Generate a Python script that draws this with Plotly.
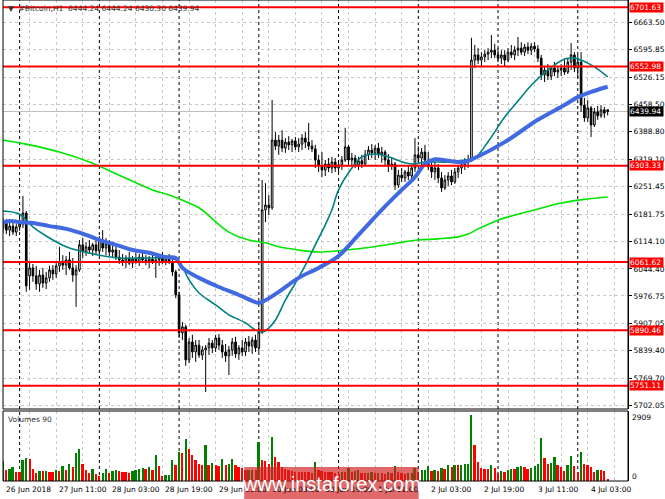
import plotly.graph_objects as go

# ---------------- data ----------------
x_labels = ["26 Jun 2018", "27 Jun 11:00", "28 Jun 03:00", "28 Jun 19:00", "29 Jun 11:00",
            "30 Jun 03:00", "30 Jun 19:00", "1 Jul 11:00", "2 Jul 03:00", "2 Jul 19:00",
            "3 Jul 11:00", "4 Jul 03:00"]
x_label_bars = [0, 16, 32, 48, 64, 80, 96, 112, 128, 144, 160, 176]
day_start_bars = [5, 29, 53, 77, 101, 125, 149, 173]

open_ = [6147, 6162, 6142, 6152, 6137, 6150, 6157, 6185, 6027, 6047,
         6027, 6007, 6029, 6009, 6022, 6042, 6032, 6052, 6062, 6054,
         6067, 6047, 6029, 6042, 6105, 6087, 6100, 6092, 6105, 6090,
         6117, 6097, 6107, 6087, 6092, 6074, 6067, 6062, 6072, 6059,
         6069, 6064, 6074, 6067, 6062, 6069, 6062, 6067, 6072, 6064,
         6069, 6062, 6037, 5979, 5884, 5899, 5816, 5861, 5836, 5853,
         5828, 5841, 5846, 5858, 5846, 5871, 5853, 5836, 5826, 5841,
         5861, 5831, 5846, 5836, 5861, 5851, 5866, 5846, 5886, 6193,
         6205, 6198, 6368, 6353, 6368, 6348, 6363, 6356, 6366, 6351,
         6358, 6373, 6363, 6353, 6346, 6318, 6303, 6293, 6308, 6298,
         6313, 6298, 6306, 6318, 6351, 6318, 6323, 6306, 6316, 6308,
         6331, 6343, 6336, 6348, 6331, 6338, 6318, 6303, 6308, 6255,
         6280, 6273, 6288, 6278, 6298, 6331, 6323, 6338, 6318, 6301,
         6288, 6298, 6273, 6248, 6268, 6278, 6263, 6288, 6298, 6306,
         6313, 6318, 6569, 6582, 6569, 6577, 6584, 6589, 6594, 6582,
         6574, 6582, 6569, 6589, 6582, 6594, 6599, 6589, 6602, 6594,
         6604, 6597, 6574, 6532, 6544, 6529, 6549, 6539, 6544, 6549,
         6539, 6564, 6582, 6549, 6564, 6456, 6424, 6449, 6406, 6439,
         6429, 6444, 6444.24]
high = [6172, 6170, 6162, 6160, 6157, 6180, 6228, 6190, 6062, 6057,
        6052, 6042, 6047, 6037, 6052, 6054, 6062, 6100, 6079, 6077,
        6087, 6072, 6054, 6117, 6122, 6112, 6117, 6110, 6122, 6127,
        6142, 6122, 6117, 6107, 6102, 6092, 6082, 6079, 6087, 6077,
        6085, 6082, 6087, 6079, 6077, 6082, 6079, 6082, 6087, 6079,
        6082, 6072, 6042, 5987, 5911, 5904, 5871, 5879, 5866, 5866,
        5851, 5853, 5871, 5866, 5879, 5881, 5866, 5856, 5851, 5871,
        5874, 5853, 5866, 5871, 5876, 5874, 5879, 5911, 6268, 6260,
        6230, 6469, 6388, 6381, 6393, 6373, 6378, 6371, 6376, 6373,
        6383, 6388, 6411, 6368, 6356, 6331, 6338, 6318, 6323, 6326,
        6323, 6318, 6328, 6399, 6356, 6336, 6331, 6326, 6331, 6343,
        6353, 6358, 6356, 6361, 6351, 6343, 6333, 6323, 6313, 6293,
        6298, 6293, 6303, 6306, 6373, 6353, 6348, 6356, 6338, 6318,
        6313, 6308, 6288, 6280, 6288, 6293, 6298, 6306, 6318, 6323,
        6331, 6625, 6607, 6599, 6589, 6594, 6599, 6632, 6610, 6599,
        6594, 6594, 6599, 6607, 6604, 6627, 6614, 6610, 6614, 6612,
        6614, 6607, 6582, 6554, 6559, 6554, 6564, 6554, 6559, 6569,
        6574, 6612, 6589, 6582, 6589, 6474, 6469, 6454, 6449, 6454,
        6456, 6451, 6444.24]
low = [6135, 6132, 6127, 6130, 6127, 6140, 6147, 5987, 5992, 6012,
       5992, 5987, 5997, 5994, 6012, 6017, 6022, 6037, 6042, 6029,
       6042, 6012, 5949, 6037, 6072, 6077, 6082, 6077, 6082, 6079,
       6087, 6079, 6077, 6072, 6067, 6057, 6052, 6047, 6054, 6047,
       6057, 6052, 6059, 6054, 6047, 6057, 6022, 6052, 6057, 6054,
       6057, 6027, 5971, 5871, 5866, 5801, 5808, 5821, 5811, 5821,
       5816, 5735, 5828, 5833, 5836, 5841, 5821, 5811, 5778, 5826,
       5821, 5816, 5826, 5826, 5836, 5831, 5836, 5836, 5881, 6162,
       6180, 6193, 6343, 6331, 6338, 6336, 6343, 6338, 6343, 6338,
       6343, 6348, 6343, 6338, 6298, 6288, 6275, 6278, 6288, 6285,
       6288, 6283, 6293, 6313, 6306, 6303, 6298, 6293, 6298, 6303,
       6318, 6323, 6318, 6323, 6311, 6303, 6288, 6293, 6243, 6248,
       6263, 6263, 6268, 6268, 6288, 6313, 6303, 6306, 6293, 6273,
       6268, 6260, 6238, 6243, 6253, 6255, 6258, 6273, 6283, 6293,
       6298, 6313, 6549, 6559, 6554, 6564, 6569, 6574, 6574, 6564,
       6559, 6554, 6564, 6574, 6569, 6579, 6582, 6579, 6584, 6582,
       6589, 6564, 6519, 6514, 6519, 6519, 6529, 6524, 6529, 6532,
       6534, 6544, 6539, 6524, 6439, 6414, 6414, 6376, 6401, 6419,
       6424, 6424, 6430.30]
close = [6162, 6142, 6152, 6137, 6150, 6157, 6185, 6002, 6047, 6027,
         6007, 6029, 6009, 6022, 6042, 6032, 6052, 6062, 6054, 6067,
         6047, 6029, 6042, 6105, 6087, 6100, 6092, 6105, 6090, 6117,
         6097, 6107, 6087, 6092, 6074, 6067, 6062, 6072, 6059, 6069,
         6064, 6074, 6067, 6062, 6069, 6062, 6067, 6072, 6064, 6069,
         6062, 6037, 5979, 5884, 5899, 5816, 5861, 5836, 5853, 5828,
         5841, 5846, 5858, 5846, 5871, 5853, 5836, 5826, 5841, 5861,
         5831, 5846, 5836, 5861, 5851, 5866, 5846, 5886, 6193, 6205,
         6198, 6368, 6353, 6368, 6348, 6363, 6356, 6366, 6351, 6358,
         6373, 6363, 6353, 6346, 6318, 6303, 6293, 6308, 6298, 6313,
         6298, 6306, 6318, 6351, 6318, 6323, 6306, 6316, 6308, 6331,
         6343, 6336, 6348, 6331, 6338, 6318, 6303, 6308, 6255, 6280,
         6273, 6288, 6278, 6298, 6331, 6323, 6338, 6318, 6301, 6288,
         6298, 6273, 6248, 6268, 6278, 6263, 6288, 6298, 6306, 6313,
         6318, 6569, 6582, 6569, 6577, 6584, 6589, 6594, 6582, 6574,
         6582, 6569, 6589, 6582, 6594, 6599, 6589, 6602, 6594, 6604,
         6597, 6574, 6532, 6544, 6529, 6549, 6539, 6544, 6549, 6539,
         6564, 6582, 6549, 6564, 6456, 6424, 6449, 6406, 6439, 6429,
         6444, 6436, 6439.94]
volume = [886, 473, 546, 620, 399, 399, 916, 1034, 960, 546,
          369, 443, 428, 443, 399, 399, 502, 428, 665, 473,
          738, 620, 1255, 1432, 738, 502, 369, 517, 295, 207,
          354, 517, 369, 443, 502, 428, 399, 384, 369, 443,
          473, 546, 576, 546, 620, 473, 1137, 665, 222, 251,
          266, 916, 694, 1285, 1240, 1831, 1403, 1137, 916, 738,
          724, 1580, 694, 797, 724, 650, 989, 694, 738, 989,
          694, 620, 591, 473, 487, 502, 487, 1728, 916, 886,
          768, 1949, 1063, 842, 620, 546, 473, 428, 399, 399,
          399, 384, 384, 369, 842, 473, 443, 399, 399, 399,
          369, 325, 399, 384, 591, 399, 428, 473, 369, 354,
          369, 399, 354, 369, 354, 325, 399, 369, 650, 399,
          369, 325, 354, 369, 591, 399, 473, 502, 650, 443,
          473, 443, 591, 517, 694, 620, 724, 694, 724, 738,
          768, 2909, 1580, 842, 591, 546, 546, 724, 576, 369,
          443, 399, 473, 546, 546, 620, 650, 620, 546, 591,
          650, 738, 1890, 1034, 768, 797, 1063, 694, 620, 443,
          694, 1107, 650, 399, 1285, 738, 694, 620, 399, 502,
          473, 428, 90]

ma_fast_bars = [0, 5, 9, 14, 19, 23, 29, 35, 44, 50, 53, 56, 59, 64, 68, 73, 76, 78, 80, 82,
                85, 88, 91, 94, 97, 99, 101, 105, 108, 112, 116, 121, 124, 127, 134, 139, 142,
                146, 151, 155, 159, 164, 169, 172, 174, 178, 182]
ma_fast = [6190, 6182, 6150, 6122, 6100, 6090, 6079, 6072, 6072, 6072, 6062, 6017, 5984, 5954,
           5929, 5909, 5891, 5886, 5896, 5916, 5966, 6009, 6054, 6105, 6155, 6193, 6243, 6298,
           6326, 6333, 6326, 6311, 6308, 6313, 6313, 6318, 6323, 6364, 6426, 6466, 6506, 6544,
           6572, 6574, 6569, 6552, 6527]
ma_mid_bars = [0, 2, 5, 9, 14, 19, 25, 29, 34, 39, 44, 49, 52, 54, 59, 65, 71, 76, 77, 79,
               83, 89, 95, 101, 107, 114, 119, 124, 127, 130, 134, 139, 142, 151, 161, 169,
               173, 177, 182]
ma_mid = [6160, 6165, 6162, 6160, 6152, 6145, 6130, 6117, 6105, 6092, 6085, 6074, 6072, 6047,
          6022, 5999, 5979, 5961, 5959, 5966, 5987, 6022, 6047, 6077, 6130, 6193, 6235, 6275,
          6308, 6320, 6316, 6313, 6323, 6363, 6419, 6456, 6476, 6489, 6502]
ma_slow_bars = [0, 8, 17, 26, 35, 45, 50, 56, 59, 68, 74, 79, 83, 89, 95, 101, 107, 113, 119,
                125, 131, 137, 140, 143, 149, 155, 161, 167, 172, 176, 182]
ma_slow = [6368, 6356, 6338, 6313, 6280, 6243, 6230, 6210, 6198, 6137, 6117, 6110, 6100, 6092,
           6087, 6090, 6095, 6102, 6110, 6117, 6120, 6125, 6132, 6145, 6167, 6182, 6195, 6208,
           6216, 6220, 6225]

levels = [6701.63, 6552.98, 6303.33, 6061.62, 5890.46, 5751.11]
last_price = 6439.94
price_ticks = [6663.50, 6595.85, 6526.15, 6458.50, 6388.80, 6319.10, 6251.45, 6181.75,
               6114.10, 6044.40, 5976.75, 5907.05, 5839.40, 5769.70, 5702.05]
vol_max_label = 2909
header = "▼  #Bitcoin,H1  6444.24 6444.24 6430.30 6439.94"
vol_title = "Volumes 90"
watermark = "www.instaforex.com"

# ---------------- layout geometry ----------------
W, H = 665, 499
ML, MR, MT, MB = 3, 35, 0, 18
PW = W - ML - MR
PH = H - MT - MB


def px_x(px):
    return (px - ML) / PW


def px_y(py):
    return (H - MB - py) / PH


bars = list(range(len(close)))
vol_colors = ["#008000" if i == 0 or volume[i] > volume[i - 1] else "#ff0000" for i in bars]

FONT = "DejaVu Sans"
FS = 7.5

fig = go.Figure()
fig.add_trace(go.Candlestick(
    x=bars, open=open_, high=high, low=low, close=close,
    increasing=dict(line=dict(color="black", width=1), fillcolor="white"),
    decreasing=dict(line=dict(color="black", width=1), fillcolor="black"),
    whiskerwidth=0, xaxis="x", yaxis="y", hoverinfo="skip", showlegend=False))
fig.add_trace(go.Scatter(x=ma_slow_bars, y=ma_slow, mode="lines",
                         line=dict(color="#00e600", width=1.6, shape="spline"),
                         xaxis="x", yaxis="y", showlegend=False, hoverinfo="skip"))
fig.add_trace(go.Scatter(x=ma_fast_bars, y=ma_fast, mode="lines",
                         line=dict(color="#008080", width=1.6, shape="spline"),
                         xaxis="x", yaxis="y", showlegend=False, hoverinfo="skip"))
fig.add_trace(go.Scatter(x=ma_mid_bars, y=ma_mid, mode="lines",
                         line=dict(color="#4169e1", width=4, shape="spline"),
                         xaxis="x", yaxis="y", showlegend=False, hoverinfo="skip"))
fig.add_trace(go.Bar(x=bars, y=volume, marker=dict(color=vol_colors, line=dict(width=0)),
                     width=0.6, xaxis="x2", yaxis="y2", showlegend=False, hoverinfo="skip"))

x_range = [0, PW / 3.333]
main_dom = [px_y(409), 1]
vol_dom = [0, px_y(411)]
y_top = 6720.0
y_bot = 6720.0 - 2.512 * 409
grid_bars = list(range(0, 189, 8))

shapes = []
for b in day_start_bars:
    shapes.append(dict(type="line", xref="x", yref="paper", x0=b, x1=b, y0=0, y1=1,
                       line=dict(color="#000000", width=1, dash="dot"), layer="below"))
for lv in levels:
    shapes.append(dict(type="line", xref="paper", yref="y", x0=0, x1=1, y0=lv, y1=lv,
                       line=dict(color="#ff0000", width=2)))
shapes.append(dict(type="line", xref="paper", yref="y", x0=0, x1=1, y0=last_price, y1=last_price,
                   line=dict(color="#c0c0c0", width=1), layer="below"))
shapes.append(dict(type="rect", xref="paper", yref="paper", x0=0, x1=1, y0=main_dom[0], y1=1,
                   line=dict(color="#000000", width=1)))
shapes.append(dict(type="rect", xref="paper", yref="paper", x0=0, x1=1, y0=0, y1=vol_dom[1],
                   line=dict(color="#000000", width=1)))
shapes.append(dict(type="rect", xref="paper", yref="paper", x0=px_x(245), x1=px_x(420),
                   y0=px_y(499), y1=px_y(467), fillcolor="rgba(210,35,35,0.68)",
                   line=dict(width=0), layer="above"))

annotations = []
for lv in levels:
    annotations.append(dict(xref="paper", yref="y", x=1, y=lv, xanchor="left", yanchor="middle",
                            text=f"{lv:.2f}", showarrow=False, bgcolor="#ff0000",
                            font=dict(family=FONT, size=FS, color="white"),
                            width=33, height=9, borderpad=0, align="left", xshift=1))
annotations.append(dict(xref="paper", yref="y", x=1, y=last_price, xanchor="left", yanchor="middle",
                        text=f"{last_price:.2f}", showarrow=False, bgcolor="#000000",
                        font=dict(family=FONT, size=FS, color="white"),
                        width=33, height=9, borderpad=0, align="left", xshift=1))
for b, t in zip(x_label_bars, x_labels):
    annotations.append(dict(xref="x", yref="paper", x=b, y=px_y(489), xanchor="left",
                            yanchor="middle", text=t, showarrow=False, xshift=1,
                            font=dict(family=FONT, size=FS, color="black")))
annotations.append(dict(xref="paper", yref="paper", x=px_x(6), y=px_y(8), xanchor="left",
                        yanchor="middle", text=header, showarrow=False,
                        font=dict(family=FONT, size=FS, color="#333333")))
annotations.append(dict(xref="paper", yref="paper", x=px_x(6), y=px_y(419), xanchor="left",
                        yanchor="middle", text=vol_title, showarrow=False,
                        font=dict(family=FONT, size=FS, color="#333333")))
annotations.append(dict(xref="paper", yref="paper", x=1, y=px_y(418), xanchor="left",
                        yanchor="middle", text=str(vol_max_label), showarrow=False, xshift=2,
                        font=dict(family=FONT, size=FS, color="black")))
annotations.append(dict(xref="paper", yref="paper", x=1, y=px_y(476), xanchor="left",
                        yanchor="middle", text="0", showarrow=False, xshift=2,
                        font=dict(family=FONT, size=FS, color="black")))
annotations.append(dict(xref="paper", yref="paper", x=px_x(333), y=px_y(484), xanchor="center",
                        yanchor="middle", text=watermark, showarrow=False,
                        font=dict(family="Liberation Sans", size=20, color="white")))

fig.update_layout(
    width=W, height=H,
    margin=dict(l=ML, r=MR, t=MT, b=MB, pad=0),
    paper_bgcolor="white", plot_bgcolor="white",
    showlegend=False, bargap=0,
    font=dict(family=FONT, size=FS, color="black"),
    xaxis=dict(domain=[0, 1], anchor="y", range=x_range, tickvals=grid_bars,
               showticklabels=False, ticks="", showgrid=True, gridcolor="#c8c8c8",
               griddash="dot", gridwidth=1, zeroline=False, showline=False,
               rangeslider=dict(visible=False), fixedrange=True),
    xaxis2=dict(domain=[0, 1], anchor="y2", matches="x", range=x_range, tickvals=grid_bars,
                showticklabels=False, ticks="", showgrid=True, gridcolor="#c8c8c8",
                griddash="dot", gridwidth=1, zeroline=False, showline=False),
    yaxis=dict(domain=main_dom, range=[y_bot, y_top], side="right", tickvals=price_ticks,
               ticktext=[f"{v:.2f}" for v in price_ticks], ticks="outside", ticklen=3,
               tickcolor="black", showgrid=True, gridcolor="#c8c8c8", griddash="dot",
               zeroline=False, showline=True, linecolor="black", anchor="x",
               tickfont=dict(family=FONT, size=FS, color="black")),
    yaxis2=dict(domain=vol_dom, range=[0, vol_max_label * 70 / 66], side="right",
                showticklabels=False, ticks="", showgrid=False, zeroline=False,
                showline=True, linecolor="black", anchor="x2"),
    shapes=shapes, annotations=annotations,
)

fig.write_html("out.html", config={"displayModeBar": False},
               post_script="document.body.style.margin='0';document.body.style.overflow='hidden';")
